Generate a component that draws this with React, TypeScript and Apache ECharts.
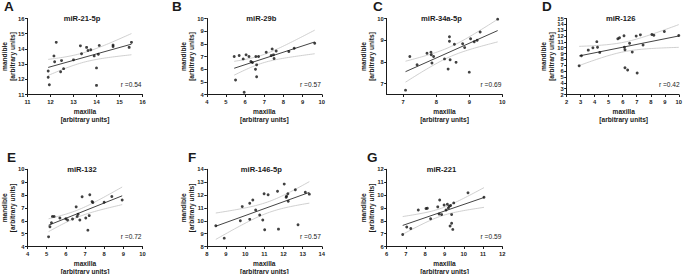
import React, { useEffect, useRef } from "react";
import * as echarts from "echarts";

// ---- data ----
const A_maxilla = [11.9, 11.9, 11.95, 12.15, 12.18, 12.25, 12.44, 12.48, 12.57, 13.0, 13.3, 13.35, 13.57, 13.63, 13.75, 13.9, 14.0, 14.0, 14.08, 14.12, 14.72, 14.72, 15.42, 15.52];
const A_mandible = [12.55, 12.13, 11.64, 13.54, 13.15, 14.43, 12.5, 13.23, 12.7, 13.28, 14.2, 13.68, 14.1, 13.9, 13.94, 13.54, 12.75, 11.6, 13.65, 14.23, 14.25, 14.16, 14.1, 14.43];

const B_maxilla = [5.43, 5.5, 5.69, 5.9, 5.95, 6.05, 6.2, 6.3, 6.38, 6.54, 6.56, 6.6, 6.6, 6.7, 7.1, 7.36, 7.41, 7.48, 7.51, 7.62, 8.28, 8.56, 9.63];
const B_mandible = [7.0, 5.14, 7.08, 6.81, 4.18, 7.13, 7.0, 6.6, 6.53, 6.0, 7.0, 6.34, 5.4, 7.0, 7.34, 7.08, 7.6, 7.13, 6.84, 7.44, 7.39, 7.65, 8.04];

const C_maxilla = [7.07, 7.2, 7.42, 7.72, 7.84, 7.85, 7.87, 7.92, 8.25, 8.36, 8.4, 8.4, 8.42, 8.55, 8.6, 8.8, 8.86, 9.0, 9.04, 9.15, 9.24, 9.33, 9.86];
const C_mandible = [6.7, 8.25, 7.87, 8.4, 8.45, 8.33, 7.95, 8.25, 8.14, 7.67, 9.16, 8.95, 8.1, 8.81, 7.98, 8.84, 8.66, 7.53, 9.07, 8.93, 9.0, 9.38, 9.97];

const D_maxilla = [2.89, 3.05, 3.54, 3.87, 4.15, 4.2, 4.36, 5.65, 5.77, 6.09, 6.12, 6.16, 6.16, 6.35, 6.49, 6.68, 6.96, 7.03, 7.26, 7.45, 8.08, 8.22, 8.97, 10.0];
const D_mandible = [6.9, 8.64, 9.59, 9.98, 11.04, 10.09, 9.2, 11.54, 11.7, 12.04, 10.09, 9.64, 6.57, 6.18, 10.76, 9.25, 11.99, 5.68, 12.2, 10.48, 12.27, 12.15, 12.77, 12.1];

const E_maxilla = [5.1, 5.17, 5.25, 5.3, 5.39, 5.69, 6.0, 6.09, 6.35, 6.54, 6.59, 6.64, 6.73, 6.85, 7.04, 7.15, 7.22, 7.25, 7.37, 7.41, 8.0, 8.4, 8.94];
const E_mandible = [4.75, 5.54, 5.85, 6.34, 6.34, 6.21, 6.16, 6.06, 6.14, 7.08, 6.34, 6.5, 6.06, 7.86, 6.21, 5.27, 6.4, 8.02, 7.49, 7.42, 7.44, 7.88, 7.62];

const F_maxilla = [8.47, 8.91, 9.75, 9.85, 10.24, 10.24, 10.4, 10.55, 10.76, 10.92, 10.99, 11.02, 11.2, 11.69, 11.74, 12.04, 12.14, 12.16, 12.23, 12.25, 12.62, 12.76, 13.14, 13.35];
const F_mandible = [9.61, 8.65, 10.0, 11.1, 11.36, 10.11, 11.62, 10.84, 10.45, 10.06, 12.1, 9.3, 12.02, 12.3, 9.35, 12.85, 11.83, 11.91, 12.1, 11.52, 12.41, 9.69, 12.22, 12.07];

const G_maxilla = [6.83, 7.04, 7.25, 7.64, 8.04, 8.11, 8.28, 8.65, 8.72, 8.75, 8.85, 8.98, 9.08, 9.15, 9.2, 9.25, 9.29, 9.32, 9.37, 9.37, 9.43, 9.48, 10.22, 11.05];
const G_mandible = [6.93, 7.51, 7.4, 8.84, 8.95, 8.97, 8.16, 9.08, 8.53, 9.62, 8.48, 9.23, 8.84, 9.28, 9.0, 9.13, 7.59, 9.18, 8.48, 7.8, 7.33, 9.39, 10.17, 9.83];

const letters = ["A", "B", "C", "D", "E", "F", "G"];
const titles = ["miR-21-5p", "miR-29b", "miR-34a-5p", "miR-126", "miR-132", "miR-146-5p", "miR-221"];
const rLabels = ["r =0.54", "r =0.57", "r =0.69", "r =0.42", "r =0.72", "r =0.57", "r =0.59"];
const xRanges = [[11, 16], [4, 10], [6.5, 10], [2, 10], [4, 10], [8, 14], [6, 12]];
const yRanges = [[11, 16], [4, 10], [6.5, 10], [2, 15], [4, 10], [8, 14], [6, 12]];
const xTicksC = [7, 8, 9, 10];
const yTicksC = [7, 8, 9, 10];
const xName = ["maxilla", "[arbitrary units]"];
const yName = ["mandible", "[arbitrary units]"];

const xs = [A_maxilla, B_maxilla, C_maxilla, D_maxilla, E_maxilla, F_maxilla, G_maxilla];
const ys = [A_mandible, B_mandible, C_mandible, D_mandible, E_mandible, F_mandible, G_mandible];

// ---- layout ----
const colLeft = [27.5, 206.8, 386.7, 566.7];
const colWidth = [115, 115, 115.6, 114];
const rowTop = [18.5, 169.3];
const rowHeight = [76, 77.2];
const letterPos = [[4, 6.5], [172, 6.5], [373, 6.5], [542, 6.5], [7, 157], [188, 157], [367, 157]];

const FONT = '"Liberation Sans", Arial, Helvetica, sans-serif';

function tq(df: number) {
  const table: Record<number, number> = { 18: 2.101, 19: 2.093, 20: 2.086, 21: 2.08, 22: 2.074, 23: 2.069, 24: 2.064, 25: 2.06 };
  return table[df] ?? 2.07;
}

function regression(x: number[], y: number[]) {
  const n = x.length;
  const mx = x.reduce((a, b) => a + b, 0) / n;
  const my = y.reduce((a, b) => a + b, 0) / n;
  let sxx = 0, sxy = 0;
  for (let i = 0; i < n; i++) {
    sxx += (x[i] - mx) ** 2;
    sxy += (x[i] - mx) * (y[i] - my);
  }
  const b = sxy / sxx;
  const a = my - b * mx;
  let sse = 0;
  for (let i = 0; i < n; i++) sse += (y[i] - a - b * x[i]) ** 2;
  const s = Math.sqrt(sse / (n - 2));
  const t = tq(n - 2);
  const x0 = Math.min(...x), x1 = Math.max(...x);
  const line = [[x0, a + b * x0], [x1, a + b * x1]];
  const up: number[][] = [], lo: number[][] = [];
  const steps = 40;
  for (let k = 0; k <= steps; k++) {
    const xv = x0 + ((x1 - x0) * k) / steps;
    const yh = a + b * xv;
    const h = t * s * Math.sqrt(1 / n + (xv - mx) ** 2 / sxx);
    up.push([xv, yh + h]);
    lo.push([xv, yh - h]);
  }
  return { line, up, lo };
}

export default function App() {
  const ref = useRef<HTMLDivElement>(null);
  useEffect(() => {
    if (!ref.current) return;
    const chart = echarts.init(ref.current, undefined, { renderer: "svg" });
    const grids: any[] = [];
    const xAxes: any[] = [];
    const yAxes: any[] = [];
    const series: any[] = [];
    const graphics: any[] = [];
    const axisLine = { show: true, onZero: false, lineStyle: { color: "#1a1a1a", width: 1 } };
    const axisTick = { show: true, length: 2.5, lineStyle: { color: "#1a1a1a", width: 1 } };
    const lab = { fontSize: 5.8, fontWeight: "bold", color: "#222", fontFamily: FONT };

    for (let i = 0; i < 7; i++) {
      const row = i < 4 ? 0 : 1;
      const col = i < 4 ? i : i - 4;
      const left = colLeft[col];
      const width = colWidth[col];
      const top = rowTop[row];
      const height = rowHeight[row];
      grids.push({ left, top, width, height, containLabel: false });
      const isC = i === 2;
      xAxes.push({
        gridIndex: i, type: "value", min: xRanges[i][0], max: xRanges[i][1],
        ...(isC ? {} : { interval: 1 }),
        axisLine, splitLine: { show: false },
        axisTick: isC ? { ...axisTick, customValues: xTicksC } : axisTick,
        axisLabel: isC ? { ...lab, margin: 4, customValues: xTicksC } : { ...lab, margin: 4 },
      });
      yAxes.push({
        gridIndex: i, type: "value", min: yRanges[i][0], max: yRanges[i][1],
        ...(isC ? {} : { interval: 1 }),
        axisLine, splitLine: { show: false },
        axisTick: isC ? { ...axisTick, customValues: yTicksC } : axisTick,
        axisLabel: isC ? { ...lab, margin: 3, customValues: yTicksC } : { ...lab, margin: 3 },
      });
      const reg = regression(xs[i], ys[i]);
      const common = { xAxisIndex: i, yAxisIndex: i, silent: true, animation: false };
      series.push({ ...common, type: "line", data: reg.up, showSymbol: false, symbol: "none", lineStyle: { color: "#c4c4c4", width: 0.8 }, z: 1 });
      series.push({ ...common, type: "line", data: reg.lo, showSymbol: false, symbol: "none", lineStyle: { color: "#c4c4c4", width: 0.8 }, z: 1 });
      series.push({ ...common, type: "line", data: reg.line, showSymbol: false, symbol: "none", lineStyle: { color: "#444", width: 1 }, z: 2 });
      series.push({ ...common, type: "scatter", data: xs[i].map((v, k) => [v, ys[i][k]]), symbol: "circle", symbolSize: 2.9, itemStyle: { color: "#111" }, z: 3 });

      const cx = left + width / 2;
      const cy = top + height / 2;
      const bottom = top + height;
      const txt = (text: string, x: number, y: number, size: number, weight: string, align: string, vAlign: string, extra: any = {}) => ({
        type: "text", x, y, silent: true, ...extra,
        style: { text, fontSize: size, fontWeight: weight, fontFamily: FONT, fill: "#1a1a1a", align, verticalAlign: vAlign, textAlign: align, textVerticalAlign: vAlign },
      });
      graphics.push(txt(letters[i], letterPos[i][0], letterPos[i][1], 13.5, "bold", "left", "middle"));
      graphics.push(txt(titles[i], cx - 3, top, 7.6, "bold", "center", "middle"));
      graphics.push(txt(rLabels[i], left + width - 1, bottom - 10.5, 6.6, "normal", "right", "middle", {}));
      graphics.push(txt(xName[0], cx, bottom + 16.5, 6.6, "bold", "center", "middle"));
      graphics.push(txt(xName[1], cx, bottom + 24.5, 6.6, "bold", "center", "middle"));
      graphics.push(txt(yName[0], left - 23, cy, 6.6, "bold", "center", "middle", { rotation: Math.PI / 2 }));
      graphics.push(txt(yName[1], left - 15.5, cy, 6.6, "bold", "center", "middle", { rotation: Math.PI / 2 }));
    }

    chart.setOption({
      animation: false,
      backgroundColor: "#ffffff",
      grid: grids,
      xAxis: xAxes,
      yAxis: yAxes,
      series,
      graphic: { elements: graphics },
    });
    return () => chart.dispose();
  }, []);
  return <div ref={ref} style={{ position: "absolute", left: 0, top: 0, width: 685, height: 274, background: "#fff" }} />;
}
